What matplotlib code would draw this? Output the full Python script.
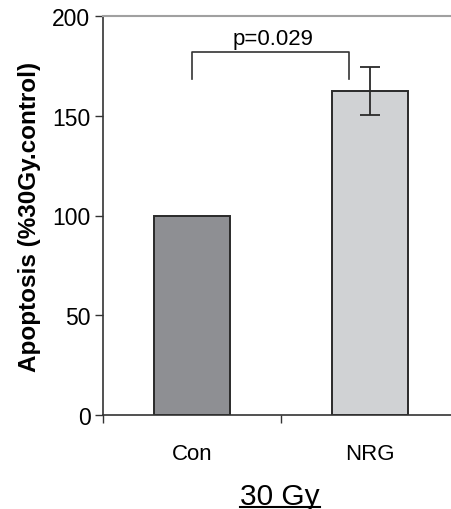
import matplotlib
matplotlib.use("Agg")
import matplotlib.pyplot as plt
from matplotlib.lines import Line2D

categories = ["Con", "NRG"]
values = [100, 162.5]
errors = [0, 12]
bar_colors = ["#8e8f93", "#d0d2d4"]
p_text = "p=0.029"
yticks = [0, 50, 100, 150, 200]

plt.rcParams['font.family'] = ['Liberation Sans', 'DejaVu Sans']

W, H = 452, 510
fig = plt.figure(figsize=(W/100, H/100), dpi=100)
left, right, top, bottom = 103, 459, 17, 416
ax = fig.add_axes([left/W, 1-bottom/H, (right-left)/W, (bottom-top)/H])

x = [0, 1]
ax.bar(x, values, width=0.43, color=bar_colors, edgecolor="#2a2a2a", linewidth=1.4, zorder=2)
ax.errorbar([1], [values[1]], yerr=[errors[1]], fmt="none", ecolor="#2a2a2a",
            elinewidth=1.3, capsize=7, capthick=1.3, zorder=3)

ax.set_xlim(-0.5, 1.5)
ax.set_ylim(0, 200)
ax.set_yticks(yticks)
ax.set_yticklabels([str(t) for t in yticks], fontsize=16.5)
ax.set_xticks([-0.5, 0.5, 1.5])
ax.set_xticklabels([])
ax.tick_params(axis='y', direction='out', length=6, width=1, color="#333333", pad=3)
ax.tick_params(axis='x', direction='out', length=6, width=1, color="#333333")
for i, c in enumerate(categories):
    ax.text(i, -14, c, ha='center', va='top', fontsize=16)

ax.spines['right'].set_visible(False)
ax.spines['top'].set_color("#a0a0a0")
ax.spines['top'].set_linewidth(1.5)
ax.spines['left'].set_color("#333333")
ax.spines['bottom'].set_color("#333333")
ax.spines['left'].set_linewidth(1.2)
ax.spines['bottom'].set_linewidth(1.2)

ax.set_ylabel("Apoptosis (%30Gy.control)", fontsize=17.5, fontweight='bold', labelpad=8)

# significance bracket
bx0, bx1, by, bend = 0, 0.88, 182, 168.5
ax.plot([bx0, bx0, bx1, bx1], [bend, by, by, bend], color="#333333", lw=1.2, clip_on=False)
ax.text(0.455, by + 1.5, p_text, ha='center', va='bottom', fontsize=16)

t = fig.text(280/W, 1-505/H, "30 Gy", ha='center', va='baseline', fontsize=21.5)
fig.canvas.draw()
bb = t.get_window_extent()
fig.add_artist(Line2D([bb.x0/W, bb.x1/W], [1-508/H, 1-508/H], color='black', lw=1.5,
                      transform=fig.transFigure))

fig.savefig("out.png", dpi=100)
